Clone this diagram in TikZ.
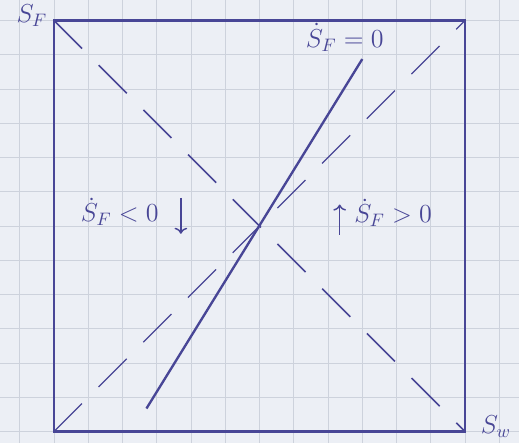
\documentclass[tikz,border=0pt]{standalone}
\usepackage{amsmath,amssymb}
\usepackage{tikz}
\usetikzlibrary{calc,arrows.meta}
\definecolor{ink}{RGB}{72,70,150}
\definecolor{paper}{RGB}{236,239,245}
\definecolor{gridline}{RGB}{205,210,220}
\tikzset{dash it/.style={ink, line width=0.9pt, dash pattern=on 22pt off 13pt}}

\begin{document}
\begin{tikzpicture}[scale=1]
    % Paper
    \useasboundingbox (-1.05,-0.214) rectangle (9.05,8.40);
    \fill[paper] (-1.05,-0.214) rectangle (9.05,8.40);
    \draw[gridline, line width=0.5pt, step=2/3] (-1.05,-0.214) grid (9.05,8.40);
    % Corners
    \coordinate (bl) at (0,0);
    \coordinate (br) at (8,0);
    \coordinate (tl) at (0,8);
    \coordinate (tr) at (8,8);
    % Square
    \draw[ink, line width=1.3pt] (bl) rectangle (tr);
    % Diagonals
    \draw[dash it] (tl) -- (br);
    \draw[dash it, line width=0.7pt] (bl) -- (tr);
    % Nullcline
    \draw[ink, line width=1.3pt] (1.8,0.45) -- (6.0,7.25);
    % Labels
    \node[ink] (sf) at (-0.43,8.1) {\Large $S_F$};
    \node[ink] (sw) at (8.6,0.1) {\Large $S_w$};
    \node[ink] (null) at (5.66,7.67) {\Large $\dot S_F=0$};
    \node[ink] (neg) at (1.28,4.28) {\Large $\dot S_F<0$};
    \node[ink] (pos) at (6.6,4.26) {\Large $\dot S_F>0$};
    % Arrows
    \draw[ink, thick, ->] (2.47,4.55) -- (2.47,3.85);
    \draw[ink, thick, ->] (5.56,3.83) -- (5.56,4.42);
\end{tikzpicture}
\end{document}
